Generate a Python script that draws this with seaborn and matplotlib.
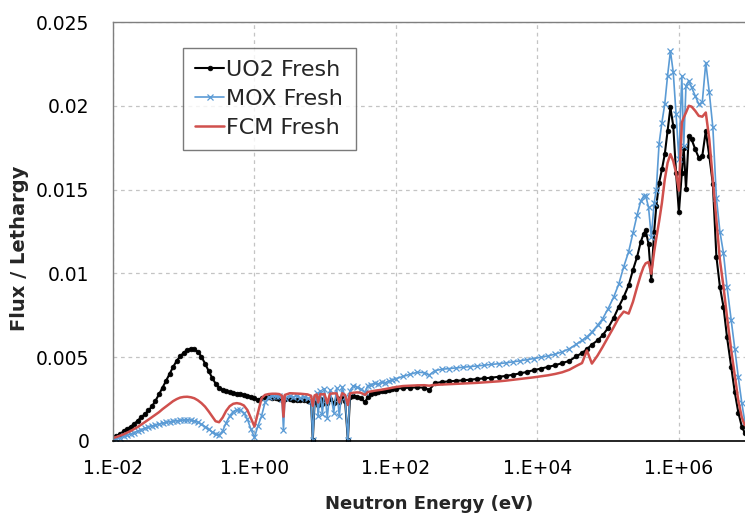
import numpy as np
import pandas as pd
import matplotlib
matplotlib.use("Agg")
import matplotlib.pyplot as plt
from matplotlib.ticker import NullLocator, FixedLocator, FixedFormatter
import seaborn as sns

# Group energies (eV)
energy_ev = [
    1.00e-2, 1.12e-2, 1.26e-2, 1.41e-2, 1.58e-2, 1.78e-2, 2.00e-2, 2.24e-2, 2.51e-2, 2.82e-2,
    3.16e-2, 3.55e-2, 3.98e-2, 4.47e-2, 5.01e-2, 5.62e-2, 6.31e-2, 7.08e-2, 7.94e-2, 8.91e-2,
    0.100, 0.112, 0.126, 0.141, 0.158, 0.178, 0.200, 0.224, 0.251, 0.282,
    0.316, 0.355, 0.398, 0.447, 0.501, 0.562, 0.631, 0.708, 0.794, 0.891,
    1.00, 1.12, 1.26, 1.41,
    1.58, 1.78, 2.00, 2.24, 2.45, 2.57, 2.69, 3.16, 3.55, 3.98,
    4.47, 5.01, 5.62, 6.31, 6.67, 7.08, 7.59, 7.94, 8.51, 9.12,
    9.77, 10.7, 11.7, 13.2, 14.5, 15.8, 17.4, 19.1, 20.9, 22.4,
    25.1, 28.2, 31.6, 36.7, 39.8, 44.7, 50.1, 56.2, 63.1, 70.8,
    79.4, 89.1, 100.0,
    126.0, 158.0, 200.0, 251.0, 295.0, 355.0, 447.0, 562.0, 708.0, 891.0,
    1.12e3, 1.41e3, 1.78e3, 2.24e3, 2.82e3, 3.55e3, 4.47e3, 5.62e3, 7.08e3, 8.91e3,
    1.12e4, 1.41e4, 1.78e4, 2.24e4,
    2.82e4, 3.55e4, 4.27e4, 5.01e4, 5.89e4, 7.08e4, 8.32e4, 1.00e5, 1.20e5, 1.41e5,
    1.66e5, 1.95e5, 2.24e5, 2.57e5, 2.88e5, 3.16e5, 3.39e5, 3.72e5, 4.07e5, 4.47e5,
    4.79e5, 5.25e5, 5.75e5, 6.31e5, 6.92e5, 7.59e5, 8.32e5, 9.12e5, 1.00e6, 1.10e6,
    1.17e6, 1.26e6, 1.38e6, 1.51e6, 1.70e6, 1.91e6, 2.14e6, 2.40e6, 2.69e6, 3.02e6,
    3.39e6, 3.80e6, 4.27e6, 4.79e6, 5.50e6, 6.17e6, 6.92e6, 7.76e6, 8.51e6,
]

uo2_fresh = [
    0.00020, 0.00030, 0.00042, 0.00058, 0.00072, 0.00086, 0.00102, 0.00122, 0.00142, 0.00160,
    0.00182, 0.00206, 0.00240, 0.00278, 0.00318, 0.00358, 0.00400, 0.00442, 0.00478, 0.00505,
    0.00527, 0.00542, 0.00550, 0.00547, 0.00533, 0.00503, 0.00462, 0.00420, 0.00378, 0.00343,
    0.00318, 0.00304, 0.00296, 0.00291, 0.00287, 0.00283, 0.00279, 0.00275, 0.00270, 0.00264,
    0.00255, 0.00246, 0.00256, 0.00262,
    0.00262, 0.00258, 0.00255, 0.00252, 0.00250, 0.00240, 0.00250, 0.00248, 0.00246, 0.00245,
    0.00244, 0.00242, 0.00240, 0.00235, 0.00005, 0.00232, 0.00245, 0.00215, 0.00248, 0.00222,
    0.00250, 0.00225, 0.00252, 0.00228, 0.00254, 0.00230, 0.00256, 0.00240, 0.00005, 0.00262,
    0.00268, 0.00265, 0.00255, 0.00232, 0.00262, 0.00280, 0.00288, 0.00292, 0.00296, 0.00300,
    0.00305, 0.00308, 0.00312,
    0.00316, 0.00318, 0.00320, 0.00318, 0.00304, 0.00345, 0.00352, 0.00356, 0.00359, 0.00362,
    0.00366, 0.00370, 0.00374, 0.00378, 0.00383, 0.00388, 0.00395, 0.00403, 0.00412, 0.00423,
    0.00432, 0.00442, 0.00452, 0.00465,
    0.00478, 0.00505, 0.00525, 0.00548, 0.00575, 0.00600, 0.00630, 0.00675, 0.00735, 0.00800,
    0.00860, 0.00930, 0.01020, 0.01100, 0.01186, 0.01235, 0.01256, 0.01177, 0.00960, 0.01250,
    0.01400, 0.01540, 0.01620, 0.01710, 0.01850, 0.01990, 0.01880, 0.01600, 0.01365, 0.01600,
    0.01750, 0.01504, 0.01820, 0.01800, 0.01742, 0.01690, 0.01700, 0.01850, 0.01700, 0.01534,
    0.01100, 0.00920, 0.00800, 0.00620, 0.00440, 0.00290, 0.00170, 0.00085, 0.00050,
]

mox_fresh = [
    0.00008, 0.00012, 0.00020, 0.00027, 0.00034, 0.00042, 0.00050, 0.00060, 0.00068, 0.00076,
    0.00084, 0.00090, 0.00095, 0.00100, 0.00106, 0.00111, 0.00115, 0.00118, 0.00121, 0.00123,
    0.00125, 0.00126, 0.00125, 0.00120, 0.00112, 0.00100, 0.00086, 0.00070, 0.00054, 0.00040,
    0.00036, 0.00060, 0.00110, 0.00150, 0.00176, 0.00186, 0.00183, 0.00168, 0.00130, 0.00070,
    0.00022, 0.00090, 0.00150, 0.00230,
    0.00262, 0.00270, 0.00266, 0.00268, 0.00250, 0.00065, 0.00255, 0.00268, 0.00262, 0.00270,
    0.00258, 0.00265, 0.00255, 0.00240, 0.00005, 0.00250, 0.00285, 0.00150, 0.00300, 0.00160,
    0.00310, 0.00140, 0.00305, 0.00170, 0.00315, 0.00150, 0.00320, 0.00260, 0.00005, 0.00300,
    0.00330, 0.00320, 0.00310, 0.00290, 0.00330, 0.00336, 0.00345, 0.00340, 0.00352, 0.00348,
    0.00358, 0.00365, 0.00372,
    0.00385, 0.00398, 0.00410, 0.00408, 0.00393, 0.00420, 0.00428, 0.00432, 0.00436, 0.00440,
    0.00444, 0.00448, 0.00452, 0.00457, 0.00461, 0.00466, 0.00472, 0.00478, 0.00485, 0.00492,
    0.00500, 0.00508, 0.00518, 0.00532,
    0.00550, 0.00578, 0.00600, 0.00622, 0.00650, 0.00690, 0.00728, 0.00790, 0.00860, 0.00935,
    0.01040, 0.01130, 0.01240, 0.01350, 0.01430, 0.01460, 0.01464, 0.01395, 0.01220, 0.01420,
    0.01500, 0.01775, 0.01900, 0.02010, 0.02180, 0.02327, 0.02200, 0.01950, 0.01680, 0.02178,
    0.01760, 0.02120, 0.02150, 0.02110, 0.02060, 0.02010, 0.02020, 0.02258, 0.02080, 0.01871,
    0.01450, 0.01250, 0.01120, 0.00920, 0.00720, 0.00550, 0.00380, 0.00225, 0.00120,
]

fcm_fresh = [
    0.00018, 0.00024, 0.00032, 0.00040, 0.00050, 0.00060, 0.00072, 0.00084, 0.00098, 0.00112,
    0.00127, 0.00142, 0.00157, 0.00172, 0.00190, 0.00206, 0.00222, 0.00238, 0.00250, 0.00259,
    0.00263, 0.00264, 0.00261, 0.00255, 0.00243, 0.00226, 0.00205, 0.00178, 0.00148, 0.00118,
    0.00112, 0.00140, 0.00180, 0.00208, 0.00222, 0.00226, 0.00222, 0.00212, 0.00185, 0.00135,
    0.00086, 0.00170, 0.00255, 0.00275,
    0.00280, 0.00282, 0.00282, 0.00280, 0.00270, 0.00145, 0.00275, 0.00285, 0.00284, 0.00283,
    0.00282, 0.00280, 0.00278, 0.00270, 0.00210, 0.00272, 0.00278, 0.00230, 0.00280, 0.00278,
    0.00280, 0.00225, 0.00282, 0.00284, 0.00284, 0.00230, 0.00285, 0.00275, 0.00215, 0.00284,
    0.00288, 0.00290, 0.00288, 0.00275, 0.00292, 0.00296, 0.00300, 0.00303, 0.00306, 0.00310,
    0.00314, 0.00318, 0.00322,
    0.00328, 0.00330, 0.00332, 0.00333, 0.00330, 0.00335, 0.00337, 0.00339, 0.00341, 0.00343,
    0.00345, 0.00347, 0.00350, 0.00353, 0.00356, 0.00360, 0.00365, 0.00370, 0.00375, 0.00380,
    0.00386, 0.00392, 0.00400, 0.00410,
    0.00425, 0.00448, 0.00465, 0.00540, 0.00462, 0.00510, 0.00560, 0.00620, 0.00680, 0.00735,
    0.00772, 0.00760, 0.00830, 0.00920, 0.00990, 0.01038, 0.01060, 0.01068, 0.00998, 0.01130,
    0.01210, 0.01310, 0.01420, 0.01560, 0.01660, 0.01712, 0.01670, 0.01600, 0.01494, 0.01900,
    0.01930, 0.01960, 0.02000, 0.01995, 0.01970, 0.01940, 0.01935, 0.01960, 0.01800, 0.01560,
    0.01320, 0.01080, 0.00920, 0.00740, 0.00540, 0.00390, 0.00240, 0.00140, 0.00095,
]

x_ticks = [1e-2, 1e0, 1e2, 1e4, 1e6]
x_tick_labels = ["1.E-02", "1.E+00", "1.E+02", "1.E+04", "1.E+06"]
y_ticks = [0.0, 0.005, 0.01, 0.015, 0.02, 0.025]
y_tick_labels = ["0", "0.005", "0.01", "0.015", "0.02", "0.025"]

sns.set_theme(style="white")
plt.rcParams["font.family"] = ["DejaVu Sans"]

fig = plt.figure(figsize=(7.45, 5.21), dpi=100)
ax = fig.add_axes([113 / 745, 80 / 521, 632 / 745, 419 / 521])

series = [
    ("UO2 Fresh", uo2_fresh, dict(color="black", marker="o", markersize=3.4,
                                  markeredgecolor="black", markerfacecolor="black",
                                  markeredgewidth=0.5, linewidth=1.5)),
    ("MOX Fresh", mox_fresh, dict(color="#5b9bd5", marker="x", markersize=4.0,
                                  markeredgecolor="#5b9bd5", markeredgewidth=0.9,
                                  linewidth=1.2)),
    ("FCM Fresh", fcm_fresh, dict(color="#d0504d", linewidth=1.8)),
]
for name, values, style in series:
    sns.lineplot(x=energy_ev, y=values, ax=ax, label=name, estimator=None,
                 sort=False, **style)

ax.set_xscale("log")
ax.set_xlim(1e-2, 8.6e6)
ax.set_ylim(0, 0.025)
ax.xaxis.set_major_locator(FixedLocator(x_ticks))
ax.xaxis.set_major_formatter(FixedFormatter(x_tick_labels))
ax.xaxis.set_minor_locator(NullLocator())
ax.set_yticks(y_ticks)
ax.set_yticklabels(y_tick_labels)

ax.grid(True, which="major", linestyle=(0, (3, 3)), color="#c4c4c4", linewidth=0.9)
ax.set_axisbelow(True)

ax.spines["right"].set_visible(False)
ax.spines["top"].set_color("#7f7f7f")
ax.spines["top"].set_linewidth(1.0)
ax.spines["left"].set_color("#7f7f7f")
ax.spines["left"].set_linewidth(1.0)
ax.spines["bottom"].set_color("black")
ax.spines["bottom"].set_linewidth(1.2)

ax.tick_params(axis="both", which="major", direction="out", length=5, width=1,
               color="#7f7f7f", labelsize=13.5, labelcolor="black")
ax.tick_params(axis="x", pad=8)
ax.tick_params(axis="y", pad=12)

ax.set_xlabel("Neutron Energy (eV)", fontsize=13, fontweight="bold", labelpad=12)
ax.set_ylabel("Flux / Lethargy", fontsize=14, fontweight="bold")
ax.yaxis.set_label_coords(-0.133, 0.46)

leg = ax.legend(loc="upper left", bbox_to_anchor=(0.111, 0.938), frameon=True,
                fancybox=False, shadow=False, edgecolor="#595959", facecolor="white",
                fontsize=16, handlelength=1.3, handletextpad=0.1, borderpad=0.55,
                labelspacing=0.4, numpoints=1, borderaxespad=0)
leg.get_frame().set_linewidth(1.0)

fig.savefig("out.png", dpi=100)
